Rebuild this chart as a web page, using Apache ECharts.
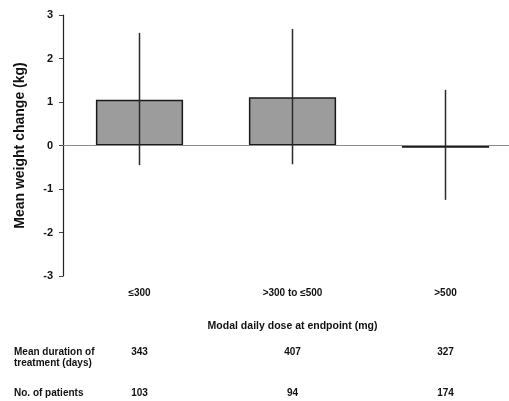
<!DOCTYPE html>
<html>
<head>
<meta charset="utf-8">
<script src="https://cdn.jsdelivr.net/npm/echarts@6/dist/echarts.min.js"></script>
<style>html,body{margin:0;padding:0;background:#fff;overflow:hidden;width:509px;height:401px}#c{width:522px;height:401px}</style>
</head>
<body>
<div id="c"></div>
<script>
var categories = ['\u2264300', '>300 to \u2264500', '>500'];
var meanChange = [1.05, 1.11, -0.05];
var errLow = [-0.45, -0.43, -1.25];
var errHigh = [2.59, 2.68, 1.28];
var durationDays = ['343', '407', '327'];
var patients = ['103', '94', '174'];
var yTicks = {min: -3, max: 3, interval: 1};

var errData = categories.map(function (c, i) { return [i, errLow[i], errHigh[i]]; });
var FONT = 'Liberation Sans, Arial, sans-serif';

var chart = echarts.init(document.getElementById('c'));
chart.setOption({
  animation: false,
  grid: {left: 63, top: 15, right: 0, bottom: 125, containLabel: false},
  xAxis: [{
    type: 'category', data: categories, boundaryGap: true,
    axisLine: {show: false}, axisTick: {show: false},
    axisLabel: {margin: 12, fontFamily: FONT, fontWeight: 'bold', fontSize: 10, color: '#111'},
    name: 'Modal daily dose at endpoint (mg)', nameLocation: 'middle', nameGap: 45,
    nameTextStyle: {fontFamily: FONT, fontWeight: 'bold', fontSize: 10.5, color: '#111'}
  }, {
    type: 'category', data: durationDays, position: 'bottom', offset: 63,
    axisLine: {show: false}, axisTick: {show: false},
    axisLabel: {margin: 8, fontFamily: FONT, fontWeight: 'bold', fontSize: 10, color: '#111'}
  }, {
    type: 'category', data: patients, position: 'bottom', offset: 104,
    axisLine: {show: false}, axisTick: {show: false},
    axisLabel: {margin: 8, fontFamily: FONT, fontWeight: 'bold', fontSize: 10, color: '#111'}
  }],
  yAxis: {
    type: 'value', min: yTicks.min, max: yTicks.max, interval: yTicks.interval,
    axisLine: {show: true, lineStyle: {color: '#222', width: 1.2}},
    axisTick: {show: true, inside: false, length: 4, lineStyle: {color: '#444'}},
    splitLine: {show: false},
    axisLabel: {margin: 10, fontFamily: FONT, fontWeight: 'bold', fontSize: 11, color: '#111'},
    name: 'Mean weight change (kg)', nameLocation: 'middle', nameGap: 36,
    nameTextStyle: {fontFamily: FONT, fontWeight: 'bold', fontSize: 14, color: '#111'}
  },
  series: [{
    type: 'bar', data: meanChange, barWidth: '57%',
    itemStyle: {color: '#9c9c9c', borderColor: '#1a1a1a', borderWidth: 1.5},
    markLine: {
      silent: true, symbol: 'none', label: {show: false},
      lineStyle: {color: '#8a8a8a', width: 1, type: 'solid'},
      data: [{yAxis: 0}]
    }
  }, {
    type: 'custom', data: errData, z: 5,
    renderItem: function (params, api) {
      var lo = api.coord([api.value(0), api.value(1)]);
      var hi = api.coord([api.value(0), api.value(2)]);
      return {
        type: 'line',
        shape: {x1: lo[0], y1: lo[1], x2: hi[0], y2: hi[1]},
        style: {stroke: '#2a2a2a', lineWidth: 1.5}
      };
    }
  }],
  graphic: [{
    type: 'text', left: 14, top: 347,
    style: {text: 'Mean duration of\ntreatment (days)', font: 'bold 10px ' + FONT, fill: '#111', lineHeight: 11}
  }, {
    type: 'text', left: 14, top: 388,
    style: {text: 'No. of patients', font: 'bold 10px ' + FONT, fill: '#111'}
  }]
});
</script>
</body>
</html>
